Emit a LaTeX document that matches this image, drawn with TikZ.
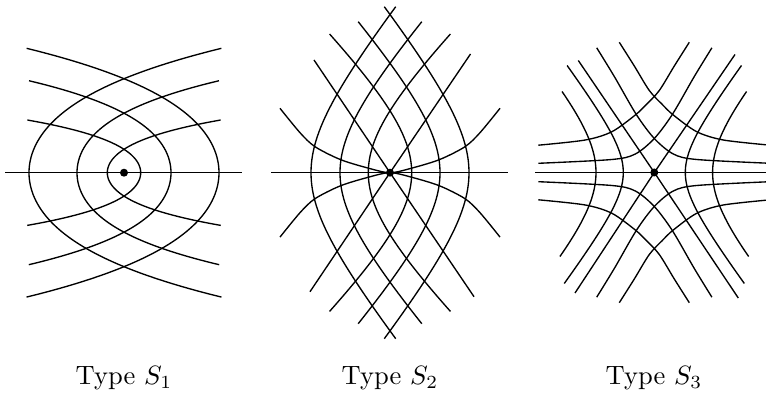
\documentclass[tikz,border=0pt]{standalone}
\begin{document}
\begin{tikzpicture}[x=1pt,y=1pt,
  curve/.style={line width=1.35pt, line join=round},
  umb/.style={circle, fill=black, inner sep=0pt, minimum size=8pt},
  lab/.style={scale=2.65, transform shape, anchor=base}]
\useasboundingbox (0,0) rectangle (766,396);
\clip (0,0) rectangle (766,396);

% ---------- Type S1 ----------
\begin{scope}[shift={(124,223.3)}]
  \draw[curve] (-119,0) -- (118,0);
  \foreach \s in {1,-1}{
    \begin{scope}[xscale=\s]
      \draw[curve] plot[domain=-1.244:1.244, samples=81, smooth] ({95-85.2*\x*\x-25.3*\x*\x*\x*\x}, {100*\x});
      \draw[curve] plot[domain=-0.92:0.92, samples=81, smooth] ({47-107.6*\x*\x-71.3*\x*\x*\x*\x}, {100*\x});
      \draw[curve] plot[domain=-0.527:0.527, samples=61, smooth] ({16.7-279.3*\x*\x-465*\x*\x*\x*\x}, {100*\x});
    \end{scope}
  }
  \node[umb] (u1) at (0,0) {};
\end{scope}

% ---------- Type S2 ----------
\begin{scope}[shift={(390,223.3)}]
  \draw[curve] (-119,0) -- (118,0);
  \foreach \s in {1,-1}{
    \begin{scope}[yscale=\s]
      \draw[curve] plot[smooth] coordinates {(-110,64.4) (-90,40) (-75,26) (-50,13.3) (-23.3,5) (0,0) (23.3,5) (50,13.3) (75,26) (90,40) (110,64.4)};
    \end{scope}
    \begin{scope}[xscale=\s]
      \draw[curve] plot[domain=-166:166, samples=81, smooth] ({-79+65*(sqrt(1+(\x/80)*(\x/80))-1)}, \x);
      \draw[curve] plot[domain=-151:151, samples=81, smooth] ({-50+72*(sqrt(1+(\x/80)*(\x/80))-1)}, \x);
      \draw[curve] plot[domain=-138.7:138.7, samples=81, smooth] ({-21.7+82*(sqrt(1+(\x/80)*(\x/80))-1)}, \x);
    \end{scope}
  }
  \coordinate (c2) at (0,0);
  \draw[curve] (-80,-119) -- (c2) -- (80.5,118.7);
  \draw[curve] (-76,112.7) -- (c2) -- (84,-124);
  \node[umb] (u2) at (c2) {};
\end{scope}

% ---------- Type S3 ----------
\begin{scope}[shift={(654.3,223.5)}]
  \draw[curve] (-119,0) -- (119,0);
  \coordinate (c3) at (0,0);
  \draw[curve] (-76,112) -- (c3) -- (84,-125.5);
  \draw[curve] (80.7,118) -- (c3) -- (-79.3,-120.5);
  \foreach \s in {1,-1}{
    \begin{scope}[xscale=\s]
      \draw[curve] plot[domain=-84:81, samples=61, smooth] ({-sqrt(3399+0.78*\x*\x)}, \x);
      \draw[curve] plot[domain=-111:107, samples=61, smooth] ({-sqrt(961+0.58*\x*\x)}, \x);
    \end{scope}
    \foreach \t in {1,-1}{
      \begin{scope}[xscale=\s, yscale=\t]
        \draw[curve] plot[smooth] coordinates {(-35,130.2) (-20,106.5) (-5,82) (8,68) (19,57.5) (42.4,40.8) (69,32.5) (116,27.3)};
        \draw[curve] plot[smooth] coordinates {(-57.6,124.7) (-40,96) (-18,58) (0,34) (19,18.5) (42.4,13) (116,9.2)};
      \end{scope}
    }
  }
  \node[umb] (u3) at (c3) {};
\end{scope}

% ---------- labels ----------
\node[lab] (t1) at (124,11) {Type $S_1$};
\node[lab] (t2) at (390,11) {Type $S_2$};
\node[lab] (t3) at (654,11) {Type $S_3$};
\end{tikzpicture}
\end{document}
